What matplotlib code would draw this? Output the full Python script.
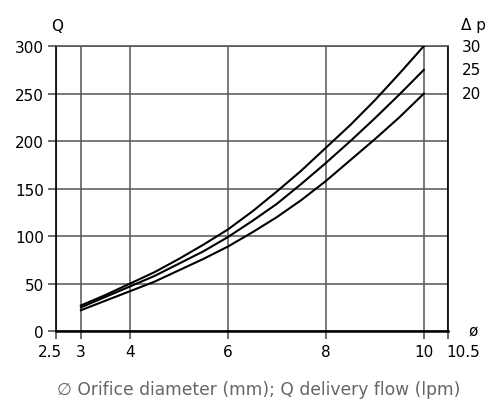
import numpy as np
import matplotlib
matplotlib.use("Agg")
import matplotlib.pyplot as plt
from matplotlib.transforms import ScaledTranslation

# orifice diameter (mm) and delivery flow Q (lpm) for each pressure drop
diam = [3, 3.5, 4, 4.5, 5, 5.5, 6, 6.5, 7, 7.5, 8, 8.5, 9, 9.5, 10]
q_30 = [27, 38, 50, 62, 76, 91, 107, 126, 147, 169, 193, 217, 243, 271, 300]
q_25 = [25, 36, 47, 58, 71, 84, 99, 116, 134, 155, 177, 200, 224, 249, 275]
q_20 = [22, 32, 42, 52, 64, 76, 89, 104, 120, 138, 158, 180, 202, 225, 250]
dp_labels = ["30", "25", "20"]

xticks = [2.5, 3, 4, 6, 8, 10, 10.5]
xticklabels = ["2.5", "3", "4", "6", "8", "10", "10.5"]
yticks = [0, 50, 100, 150, 200, 250, 300]

fig = plt.figure(figsize=(4.91, 4.10), dpi=100)
ax = fig.add_axes([0.115, 0.19, 0.798, 0.695])

for q in (q_30, q_25, q_20):
    ax.plot(diam, q, color="black", lw=1.5, zorder=3)

ax.set_xlim(2.5, 10.5)
ax.set_ylim(0, 300)
ax.set_xticks(xticks)
ax.set_xticklabels(xticklabels)
ax.set_yticks(yticks)
ax.grid(True, color="#555555", lw=1.1)
ax.tick_params(direction="out", length=6, width=1.1, color="#444444",
               labelsize=11, pad=3)
for s in ax.spines.values():
    s.set_color("black")
    s.set_linewidth(1.2)
ax.spines["top"].set_color("#555555")
ax.spines["bottom"].set_linewidth(1.8)

# end labels sit a bit away from their ticks, like the original
labs = ax.get_xticklabels()
labs[0].set_transform(labs[0].get_transform() + ScaledTranslation(-0.07, 0, fig.dpi_scale_trans))
labs[-1].set_transform(labs[-1].get_transform() + ScaledTranslation(0.15, 0, fig.dpi_scale_trans))

# right-hand labels for pressure drop
for lab, q in zip(dp_labels, (q_30, q_25, q_20)):
    ax.text(10.78, q[-1], lab, fontsize=11, va="center", ha="left", clip_on=False)
ax.text(10.76, 323, "\u0394 p", fontsize=11, va="center", ha="left", clip_on=False)
ax.text(10.92, 0, "ø", fontsize=11, va="center", ha="left", clip_on=False)
ax.text(2.52, 322, "Q", fontsize=11, va="center", ha="center", clip_on=False)

fig.text(0.527, 0.049, "\u2205 Orifice diameter (mm); Q delivery flow (lpm)",
         fontsize=12.3, color="#666666", ha="center", va="center")

fig.savefig("out.png", dpi=100)
